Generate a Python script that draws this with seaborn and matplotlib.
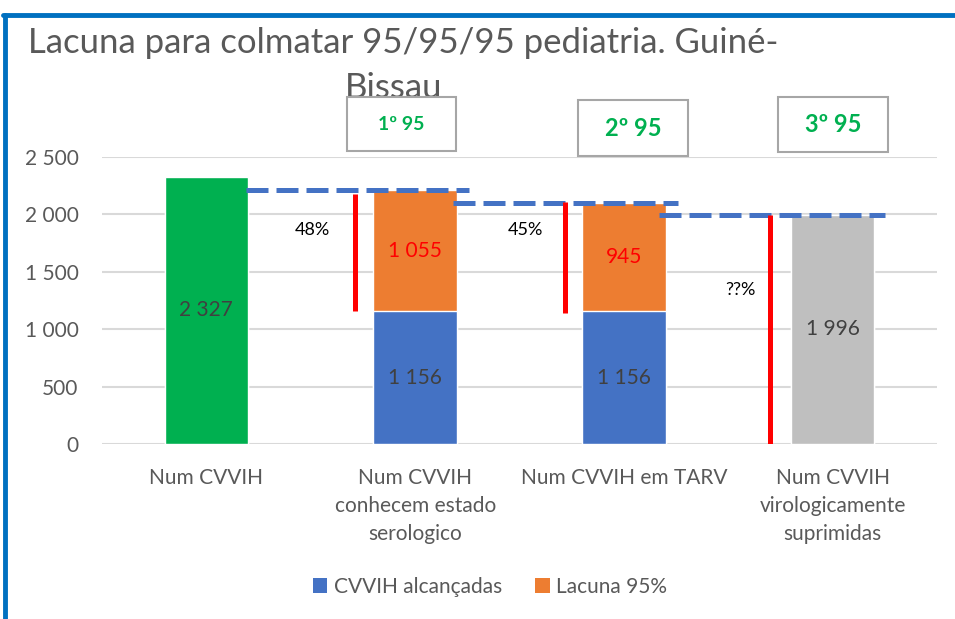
import matplotlib
matplotlib.use("Agg")
import matplotlib.pyplot as plt
import seaborn as sns
import pandas as pd
from matplotlib.patches import Patch, Rectangle
from matplotlib.lines import Line2D

# ---- data ----
categories = ["Num CVVIH", "Num CVVIH\nconhecem estado\nserologico",
              "Num CVVIH em TARV", "Num CVVIH\nvirologicamente\nsuprimidas"]
alcancadas = [2327, 1156, 1156, 1996]
lacuna = [0, 1055, 945, 0]
base_labels = ["2 327", "1 156", "1 156", "1 996"]
lacuna_labels = ["", "1 055", "945", ""]
yticks = [0, 500, 1000, 1500, 2000, 2500]
ytick_labels = ["0", "500", "1 000", "1 500", "2 000", "2 500"]
target_levels = [2211, 2101, 1996]
target_spans = [(0.19, 1.26), (1.18, 2.26), (2.17, 3.25)]
gap_x = [0.71, 1.72, 2.70]
gap_ranges = [(2180, 1156), (2108, 1140), (1996, 0)]
pct_labels = ["48%", "45%", "??%"]
pct_pos = [(0.51, 1860), (1.53, 1865), (2.56, 1340)]
box_labels = ["1º 95", "2º 95", "3º 95"]
title_line1 = "Lacuna para colmatar 95/95/95 pediatria. Guiné-"
title_line2 = "Bissau"
legend_labels = ["CVVIH alcançadas", "Lacuna 95%"]

GREEN = "#00B050"
BLUE = "#4472C4"
ORANGE = "#ED7D31"
GREY = "#BFBFBF"
RED = "#FF0000"
TXT = "#595959"

sns.set_theme(style="white")
plt.rcParams["font.family"] = ["Lato", "DejaVu Sans"]

W, H = 955, 619
fig = plt.figure(figsize=(W / 100, H / 100), dpi=100)
ax = fig.add_axes([102 / W, 1 - 444 / H, (937 - 102) / W, (444 - 157) / H])

totals = [a + b for a, b in zip(alcancadas, lacuna)]
df = pd.DataFrame({"cat": categories, "alc": alcancadas, "tot": totals})

sns.barplot(data=df, x="cat", y="tot", hue="cat",
            palette=[GREEN, ORANGE, ORANGE, GREY], width=0.4,
            legend=False, ax=ax, saturation=1, zorder=2)
sns.barplot(data=df, x="cat", y="alc", hue="cat",
            palette=[GREEN, BLUE, BLUE, GREY], width=0.4,
            legend=False, ax=ax, saturation=1, zorder=3)

ax.set_ylim(0, 2500)
ax.set_xlim(-0.5, 3.5)
ax.set_yticks(yticks)
ax.set_yticklabels(ytick_labels, fontsize=15, color=TXT)
ax.tick_params(axis="x", labelsize=15, labelcolor=TXT, length=0, pad=17)
ax.tick_params(axis="y", length=0, pad=17)
for lab in ax.get_xticklabels():
    lab.set_linespacing(1.52)
ax.set_xlabel("")
ax.set_ylabel("")
ax.yaxis.grid(True, color="#D9D9D9", linewidth=1.5, zorder=0)
ax.set_axisbelow(True)
for s in ax.spines.values():
    s.set_visible(False)

# value labels
for i, (a, l) in enumerate(zip(alcancadas, lacuna)):
    ax.text(i, a / 2, base_labels[i], ha="center", va="center",
            fontsize=15, color="#404040", zorder=5)
    if l:
        ax.text(i, a + l / 2, lacuna_labels[i], ha="center", va="center",
                fontsize=15, color=RED, zorder=5)

# target dashed lines
for lvl, (x0, x1) in zip(target_levels, target_spans):
    ax.plot([x0, x1], [lvl, lvl], color=BLUE, lw=3.6, dashes=(4.4, 1.6),
            solid_capstyle="butt", zorder=6, clip_on=False)

# gap red lines
for x, (y0, y1) in zip(gap_x, gap_ranges):
    ax.plot([x, x], [y0, y1], color=RED, lw=3.6, zorder=6, solid_capstyle="butt")

for t, (x, y) in zip(pct_labels, pct_pos):
    ax.text(x, y, t, ha="center", va="center", fontsize=13, color="black", zorder=6)

# border
fig.add_artist(Line2D([3 / W, 1], [1 - 15 / H, 1 - 15 / H], color="#0070C0", lw=3.5))
fig.add_artist(Line2D([5 / W, 5 / W], [0, 1 - 15 / H], color="#0070C0", lw=3.5))

# title
fig.text(28 / W, 1 - 53 / H, title_line1, ha="left", va="baseline",
         fontsize=25, color=TXT)
fig.text(394 / W, 1 - 98 / H, title_line2, ha="center", va="baseline",
         fontsize=25, color=TXT)

# boxes
boxes = [(347, 97, 456, 151, 14), (578, 100, 688, 156, 17), (778, 97, 888, 152, 17)]
for (x0, y0, x1, y1, fs), lab in zip(boxes, box_labels):
    fig.add_artist(Rectangle((x0 / W, 1 - y1 / H), (x1 - x0) / W, (y1 - y0) / H,
                             facecolor="white", edgecolor="#A6A6A6", lw=1.5,
                             transform=fig.transFigure, zorder=5))
    fig.text((x0 + x1) / 2 / W, 1 - (y0 + y1) / 2 / H, lab, ha="center",
             va="center", fontsize=fs, color=GREEN, fontweight="bold", zorder=6)

handles = [Patch(facecolor=BLUE, edgecolor="none"), Patch(facecolor=ORANGE, edgecolor="none")]
fig.legend(handles, legend_labels, loc="center", bbox_to_anchor=(490 / W, 1 - 587 / H),
           ncol=2, frameon=False, fontsize=15, handlelength=0.7, handleheight=0.7,
           handletextpad=0.3, columnspacing=1.6, labelcolor=TXT)

fig.savefig("out.png", dpi=100)
